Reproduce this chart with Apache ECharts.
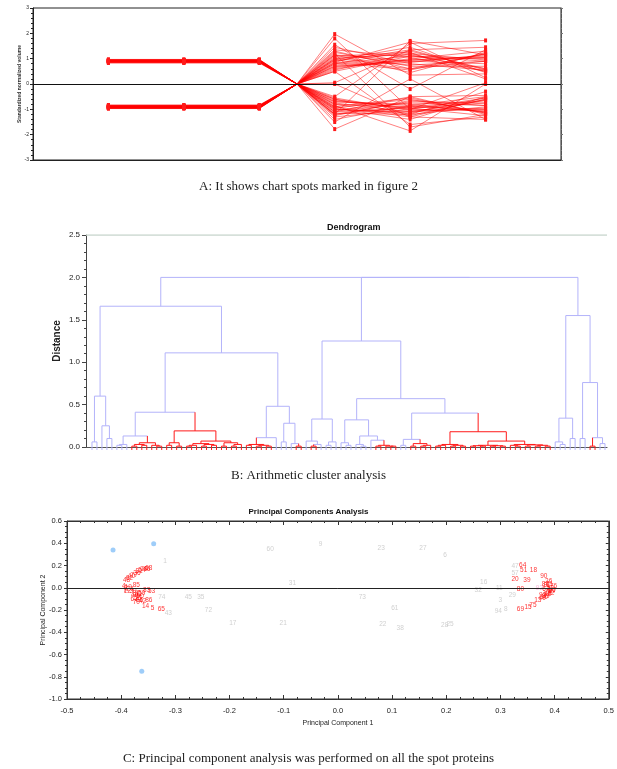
<!DOCTYPE html>
<html>
<head>
<meta charset="utf-8">
<script src="https://cdn.jsdelivr.net/npm/echarts@6/dist/echarts.min.js"></script>
<style>
  html, body { margin: 0; padding: 0; background: #fff; }
  #chart { width: 617px; height: 769px; }
</style>
</head>
<body>
<div id="chart"></div>
<script>
// ---- A: standardized spot profiles ----
const profileX = [1, 2, 3, 3.5, 4, 5, 6]
// [first three samples, sample 4, sample 5, sample 6]
const upProfiles = [
  [0.92, -1.0, -1.1, -0.65], [0.90, -0.8, -0.9, -1.0], [0.88, -1.2, -0.7, -0.75],
  [0.94, -0.9, -1.3, -0.6], [0.91, -1.78, -0.5, -0.45], [0.89, -0.6, -1.2, -0.9],
  [0.93, -1.1, -0.95, -0.75], [0.85, -0.7, -0.8, -1.1], [0.96, -1.3, -1.0, -0.55],
  [0.90, -0.95, -0.6, -1.15], [0.87, -0.55, -1.05, -1.0], [0.92, -1.4, -0.85, -0.5],
  [0.91, -0.85, -1.85, 0.0], [0.89, -1.05, -0.75, -0.85], [0.94, -0.65, -0.95, -1.25],
  [0.84, -1.15, -1.2, -0.3], [0.90, 0.0, -1.3, -1.4], [0.93, -0.75, -1.1, -0.95],
  [0.97, -1.25, -0.65, -0.85], [0.86, -0.9, -0.55, -1.15], [0.95, 0.5, -1.6, -1.3],
  [0.90, -1.0, -1.15, -0.55], [0.88, -0.6, -1.0, -1.05], [0.91, -1.5, 0.2, -1.4],
  [0.87, -0.8, -1.25, -0.6], [0.93, -1.1, -0.5, -1.2], [0.90, 1.2, -1.7, -1.2],
  [0.83, -0.7, -0.85, -1.1], [0.92, -1.2, -0.9, -0.65], [0.95, -0.95, -1.4, -0.5]
]
const downProfiles = [
  [-0.91, 1.05, 1.15, 0.6], [-0.89, 0.75, 0.95, 1.05], [-0.87, 1.25, 0.7, 0.7],
  [-0.95, 0.9, 1.35, 0.55], [-0.92, 1.97, 0.35, 0.4], [-0.88, 0.55, 1.2, 0.95],
  [-0.94, 1.15, 0.9, 0.8], [-0.85, 0.7, 0.85, 1.15], [-0.96, 1.35, 1.05, 0.5],
  [-0.90, 0.95, 0.6, 1.2], [-0.86, 0.5, 1.1, 1.0], [-0.93, 1.45, 0.8, 0.55],
  [-0.90, 0.85, 1.65, 0.25], [-0.89, 1.0, 0.75, 0.9], [-0.94, 0.6, 1.0, 1.3],
  [-0.84, 1.1, 1.25, 0.2], [-0.91, 0.05, 1.35, 1.45], [-0.93, 0.8, 1.1, 0.9],
  [-0.97, 1.3, 0.6, 0.9], [-0.86, 0.85, 0.55, 1.2], [-0.95, -0.5, 1.6, 1.72],
  [-0.90, 1.0, 1.2, 0.5], [-0.88, 0.65, 0.95, 1.1], [-0.92, 1.55, -0.2, 1.35],
  [-0.87, 0.8, 1.3, 0.6], [-0.93, 1.15, 0.45, 1.25], [-0.90, -1.2, 1.7, 1.15],
  [-0.83, 0.7, 0.9, 1.05], [-0.92, 1.8, -1.0, 0.05], [-0.95, 0.95, 1.45, 0.45]
]

// ---- B: dendrogram (b = blue leaf, r = red leaf, (left,right)height) ----
const treeLeft = '(((b,b)0.06,(b,(b,b)0.1)0.25)0.6,' +
  '(((((b,b)0.02,b)0.03,(((r,r)0.01,(r,r)0.02)0.03,(r,(r,r)0.01)0.02)0.05)0.13,' +
  '(((r,r)0.02,(r,r)0.01)0.05,((((r,r)0.01,r)0.02,((r,r)0.01,(r,r)0.02)0.03)0.04,((r,r)0.01,((r,r)0.01,r)0.03)0.05)0.07)0.19)0.41,' +
  '((((r,r)0.02,((r,r)0.01,(r,r)0.01)0.02)0.03,b)0.11,((b,b)0.06,(b,(r,r)0.01)0.04)0.28)0.48)1.11)1.66'
const treeMiddle = '(((b,((r,r)0.01,b)0.03)0.07,((b,b)0.02,b)0.06)0.33,' +
  '(((b,(b,b)0.02)0.05,((b,(b,b)0.01)0.03,(b,((r,r)0.01,(r,(r,r)0.01)0.01)0.02)0.08)0.13)0.32,' +
  '(((b,b)0.02,((r,r)0.01,((r,r)0.01,r)0.02)0.04)0.09,((((r,r)0.01,r)0.02,((r,r)0.01,(r,r)0.01)0.02)0.03,' +
  '((((r,r)0.01,(r,r)0.01)0.015,((r,r)0.01,(r,r)0.01)0.015)0.02,((r,(r,r)0.01)0.02,((r,r)0.01,((r,r)0.01,(r,r)0.01)0.02)0.025)0.03)0.07)0.18)0.4)0.57)1.25'
const treeRight = '(((b,(b,b)0.03)0.06,(b,b)0.1)0.34,((b,b)0.1,((r,r)0.01,(b,b)0.04)0.11)0.76)1.55'
const treeTop = [2.0, 2.0] // (middle,right) join, then (left, that) join
const distTicks = [0, 2.5, 0.5]

// ---- C: PCA ----
const sampleX = [-0.415, -0.34, -0.362]
const sampleY = [0.34, 0.395, -0.75]
const greyLabels = ['1', '60', '31', '74', '45', '35', '72', '43', '17', '21', '9', '23', '27', '6', '73', '61', '22', '38', '28', '25', '16', '32', '11', '47', '57', '29', '3', '94', '8']
const greyX = [-0.319, -0.125, -0.084, -0.325, -0.276, -0.253, -0.239, -0.313, -0.194, -0.101, -0.032, 0.08, 0.157, 0.198, 0.045, 0.105, 0.083, 0.115, 0.197, 0.207, 0.269, 0.259, 0.298, 0.327, 0.327, 0.322, 0.3, 0.296, 0.31]
const greyY = [0.236, 0.35, 0.042, -0.084, -0.084, -0.084, -0.2, -0.233, -0.316, -0.322, 0.394, 0.358, 0.358, 0.29, -0.084, -0.188, -0.331, -0.361, -0.337, -0.328, 0.05, -0.018, 0.0, 0.19, 0.13, -0.066, -0.113, -0.209, -0.197]
const redLabels = ['48', '62', '40', '77', '36', '81', '54', '79', '46', '68', '4', '2', '7', '19', '12', '24', '85', '30', '37', '41', '44', '50', '55', '59', '63', '66', '83', '53', '86', '42', '70', '14', '5', '65',
  '64', '51', '18', '20', '39', '90', '26', '80', '91', '52', '56', '67', '71', '76', '78', '82', '84', '87', '88', '89', '93', '49', '13', '75', '15', '69', '10']
const redX = [-0.390, -0.385, -0.381, -0.376, -0.371, -0.367, -0.362, -0.358, -0.353, -0.349, -0.395, -0.391, -0.393, -0.387, -0.389, -0.384, -0.372, -0.378, -0.372, -0.368, -0.375, -0.365, -0.37, -0.362, -0.376, -0.366, -0.353, -0.344, -0.349, -0.36, -0.372, -0.355, -0.342, -0.326,
  0.341, 0.343, 0.361, 0.327, 0.349, 0.38, 0.389, 0.337, 0.386, 0.392, 0.395, 0.384, 0.39, 0.398, 0.388, 0.393, 0.383, 0.396, 0.387, 0.384, 0.378, 0.377, 0.369, 0.36, 0.351, 0.337, 0.381]
const redY = [0.066, 0.087, 0.102, 0.117, 0.132, 0.147, 0.156, 0.165, 0.171, 0.176, 0.01, -0.005, -0.02, 0.005, -0.03, -0.015, 0.02, -0.03, -0.045, -0.06, -0.07, -0.075, -0.09, -0.05, -0.1, -0.115, -0.024, -0.03, -0.11, -0.125, -0.13, -0.165, -0.183, -0.19,
  0.206, 0.155, 0.155, 0.08, 0.066, 0.104, 0.057, -0.009, 0.02, 0.0, -0.02, -0.01, 0.035, 0.01, -0.035, -0.05, 0.03, -0.035, -0.06, -0.075, -0.065, -0.093, -0.108, -0.153, -0.174, -0.195, -0.085]
const pinkSpot = [0.372, 0.0, '92']

const RED = '#ff1a1a'
const BLUE = '#b3b3fa'
const sans = 'Liberation Sans'

function parseTree(s) {
  let i = 0
  function node() {
    if (s[i] === '(') {
      i++
      const left = node(); i++
      const right = node(); i++
      const j = i
      while (i < s.length && /[0-9.]/.test(s[i])) i++
      return { h: parseFloat(s.slice(j, i)), kids: [left, right] }
    }
    const red = s[i] === 'r'
    i++
    return { h: 0, red }
  }
  return node()
}

const root = {
  h: treeTop[1],
  kids: [parseTree(treeLeft), { h: treeTop[0], kids: [parseTree(treeMiddle), parseTree(treeRight)] }]
}
const leafFoot = -0.035
const segs = []
let leafNo = 0
function place(n) {
  if (!n.kids) { n.x = leafNo++; return }
  n.kids.forEach(place)
  n.x = (n.kids[0].x + n.kids[1].x) / 2
  n.red = n.kids[0].red && n.kids[1].red
  segs.push([n.kids[0].x, n.h, n.kids[1].x, n.h, n.red ? 1 : 0])
  n.kids.forEach(k => segs.push([k.x, n.h, k.x, k.kids ? k.h : leafFoot, k.red ? 1 : 0]))
}
place(root)

const chart = echarts.init(document.getElementById('chart'))

const profileSeries = upProfiles.concat(downProfiles).map((p, idx) => ({
  type: 'line',
  xAxisIndex: 0,
  yAxisIndex: 0,
  symbol: 'rect',
  symbolSize: [3, 4],
  itemStyle: { color: RED },
  lineStyle: { color: 'rgba(255,0,0,0.5)', width: 1 },
  data: profileX.map((x, k) => {
    const v = k < 3 ? p[0] : k === 3 ? 0 : p[k - 3]
    return k === 3 ? { value: [x, v], symbolSize: 0 } : [x, v]
  }),
  markLine: idx === 0 ? {
    silent: true, symbol: 'none', label: { show: false },
    lineStyle: { color: '#111', width: 1, type: 'solid' },
    data: [{ yAxis: 0 }]
  } : undefined,
  z: 3
}))

const labelStyle = color => ({
  show: true, position: 'inside', formatter: p => p.data[2],
  color, fontSize: 6.5, fontFamily: sans
})
const caption = { fontFamily: 'Liberation Serif', fontSize: 13, fontWeight: 'normal', color: '#222' }

chart.setOption({
  animation: false,
  backgroundColor: '#fff',
  title: [
    { text: 'A: It shows chart spots marked in figure 2', left: 'center', top: 175, textStyle: caption },
    { text: 'Dendrogram', left: 322, top: 218,
      textStyle: { fontFamily: sans, fontSize: 9, fontWeight: 'bold', color: '#111' } },
    { text: 'B: Arithmetic cluster analysis', left: 'center', top: 464, textStyle: caption },
    { text: 'Principal Components Analysis', left: 'center', top: 503,
      textStyle: { fontFamily: sans, fontSize: 8, fontWeight: 'bold', color: '#111' } },
    { text: 'C: Principal component analysis was performed on all the spot proteins', left: 'center', top: 747, textStyle: caption }
  ],
  grid: [
    { left: 33, top: 8, width: 528, height: 152, show: true, borderColor: '#222', borderWidth: 1 },
    { left: 86, top: 235, width: 521, height: 212 },
    { left: 67, top: 521, width: 545, height: 178, show: true, borderColor: '#333', borderWidth: 1 }
  ],
  xAxis: [
    { gridIndex: 0, type: 'value', min: 0, max: 7,
      axisLine: { onZero: false, lineStyle: { color: '#222' } }, axisTick: { show: false },
      axisLabel: { show: false }, splitLine: { show: false } },
    { gridIndex: 1, type: 'value', min: -1.2, max: 103.4,
      axisLine: { show: true, onZero: false, lineStyle: { color: '#555', width: 1.2 } }, axisTick: { show: false },
      axisLabel: { show: false }, splitLine: { show: false } },
    { gridIndex: 2, type: 'value', min: -0.5, max: 0.5, interval: 0.1,
      name: 'Principal Component 1', nameLocation: 'middle', nameGap: 21, nameMoveOverlap: false,
      nameTextStyle: { fontFamily: sans, fontSize: 7, color: '#222' },
      axisLine: { onZero: false, lineStyle: { color: '#333' } },
      axisTick: { inside: true, length: 4, lineStyle: { color: '#333' } },
      minorTick: { show: true, splitNumber: 4, length: 2, lineStyle: { color: '#333' } },
      axisLabel: { fontFamily: sans, fontSize: 7.5, color: '#222', formatter: v => v.toFixed(1) },
      splitLine: { show: false } },
    { gridIndex: 2, type: 'value', position: 'top', min: -0.5, max: 0.5, interval: 0.1,
      axisLine: { onZero: false, lineStyle: { color: '#333' } },
      axisTick: { inside: true, length: 4, lineStyle: { color: '#333' } },
      minorTick: { show: true, splitNumber: 4, length: 2, lineStyle: { color: '#333' } },
      axisLabel: { show: false }, splitLine: { show: false } }
  ],
  yAxis: [
    { gridIndex: 0, type: 'value', min: -3, max: 3, interval: 1,
      name: 'Standardized normalized volume', nameLocation: 'middle', nameGap: 10.5, nameMoveOverlap: false,
      nameTextStyle: { fontFamily: sans, fontSize: 5, fontWeight: 'bold', color: '#333' },
      axisLine: { show: true, onZero: false, lineStyle: { color: '#222' } },
      axisTick: { length: 3, lineStyle: { color: '#222' } },
      minorTick: { show: true, splitNumber: 5, length: 2, lineStyle: { color: '#222' } },
      axisLabel: { fontFamily: sans, fontSize: 5, color: '#222', margin: 4 },
      splitLine: { show: false } },
    { gridIndex: 0, type: 'value', position: 'right', min: -3, max: 3, interval: 1,
      axisLine: { show: true, onZero: false, lineStyle: { color: '#555' } },
      axisTick: { length: 2, lineStyle: { color: '#777' } },
      minorTick: { show: true, splitNumber: 5, length: 1, lineStyle: { color: '#777' } },
      axisLabel: { show: false }, splitLine: { show: false } },
    { gridIndex: 1, type: 'value', min: distTicks[0], max: distTicks[1], interval: distTicks[2],
      name: 'Distance', nameLocation: 'middle', nameGap: 24, nameMoveOverlap: false,
      nameTextStyle: { fontFamily: sans, fontSize: 10, fontWeight: 'bold', color: '#222' },
      axisLine: { show: true, onZero: false, lineStyle: { color: '#444' } },
      axisTick: { length: 4, lineStyle: { color: '#444' } },
      minorTick: { show: true, splitNumber: 5, length: 2, lineStyle: { color: '#444' } },
      axisLabel: { fontFamily: sans, fontSize: 8, color: '#222', margin: 6, formatter: v => v.toFixed(1) },
      splitLine: { show: false } },
    { gridIndex: 2, type: 'value', min: -1.0, max: 0.6, interval: 0.2,
      name: 'Principal Component 2', nameLocation: 'middle', nameGap: 20.5, nameMoveOverlap: false,
      nameTextStyle: { fontFamily: sans, fontSize: 7, color: '#222' },
      axisLine: { show: true, onZero: false, lineStyle: { color: '#333' } },
      axisTick: { length: 3, lineStyle: { color: '#333' } },
      minorTick: { show: true, splitNumber: 4, length: 2, lineStyle: { color: '#333' } },
      axisLabel: { fontFamily: sans, fontSize: 7.5, color: '#222', margin: 5, formatter: v => v.toFixed(1) },
      splitLine: { show: false } },
    { gridIndex: 2, type: 'value', position: 'right', min: -1.0, max: 0.6, interval: 0.2,
      axisLine: { show: true, onZero: false, lineStyle: { color: '#333' } },
      axisTick: { inside: true, length: 3, lineStyle: { color: '#333' } },
      minorTick: { show: true, splitNumber: 4, length: 2, lineStyle: { color: '#333' } },
      axisLabel: { show: false }, splitLine: { show: false } }
  ],
  series: profileSeries.concat([
    {
      type: 'line', xAxisIndex: 1, yAxisIndex: 2, symbol: 'none',
      lineStyle: { color: '#c8d6ce', width: 1.5 },
      data: [[-1.2, distTicks[1]], [103.4, distTicks[1]]]
    },
    {
      type: 'custom', xAxisIndex: 1, yAxisIndex: 2, clip: false,
      encode: { x: [0, 2], y: [1, 3] },
      data: segs,
      renderItem: (params, api) => {
        const a = api.coord([api.value(0), api.value(1)])
        const b = api.coord([api.value(2), api.value(3)])
        return {
          type: 'line',
          shape: { x1: a[0], y1: a[1], x2: b[0], y2: b[1] },
          style: { stroke: api.value(4) ? RED : BLUE, lineWidth: 1 }
        }
      },
      z: 3
    },
    {
      type: 'scatter', xAxisIndex: 2, yAxisIndex: 3, symbolSize: 0,
      data: greyX.map((x, i) => [x, greyY[i], greyLabels[i]]),
      label: labelStyle('#c4c4c4'),
      markLine: {
        silent: true, symbol: 'none', label: { show: false },
        lineStyle: { color: '#222', width: 1, type: 'solid' },
        data: [{ yAxis: 0 }]
      }
    },
    {
      type: 'scatter', xAxisIndex: 2, yAxisIndex: 3, symbolSize: 0,
      data: [pinkSpot], label: labelStyle('#f5a6cf')
    },
    {
      type: 'scatter', xAxisIndex: 2, yAxisIndex: 3, symbolSize: 0,
      data: redX.map((x, i) => [x, redY[i], redLabels[i]]),
      label: labelStyle('#ff0000')
    },
    {
      type: 'scatter', xAxisIndex: 2, yAxisIndex: 3, symbol: 'circle', symbolSize: 5,
      itemStyle: { color: '#86c0f7' },
      data: sampleX.map((x, i) => [x, sampleY[i]])
    }
  ])
})
</script>
</body>
</html>
